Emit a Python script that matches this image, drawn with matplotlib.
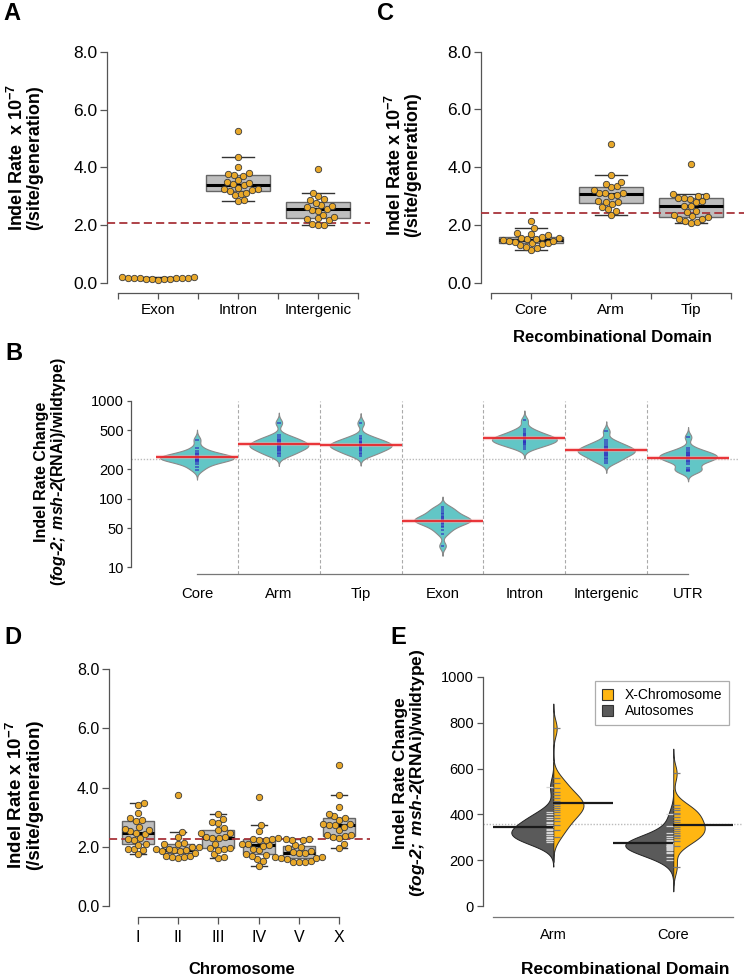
import numpy as np
import matplotlib
matplotlib.use('Agg')
import matplotlib.pyplot as plt
from matplotlib.patches import Patch
from matplotlib.ticker import NullLocator

plt.rcParams['font.family'] = ['Liberation Sans', 'DejaVu Sans']
plt.rcParams['mathtext.fontset'] = 'custom'
plt.rcParams['mathtext.rm'] = 'Liberation Sans'
plt.rcParams['mathtext.it'] = 'Liberation Sans:italic'
plt.rcParams['mathtext.bf'] = 'Liberation Sans:bold'
HAS_BFIT = 'mathtext.bfit' in plt.rcParams
if HAS_BFIT:
    plt.rcParams['mathtext.bfit'] = 'Liberation Sans:italic:bold'

# ---------------- data ----------------
# A: indel rate by genomic feature (x 10^-7 /site/generation)
a_cats = ['Exon', 'Intron', 'Intergenic']
a_exon = [0.20, 0.18, 0.16, 0.15, 0.15, 0.14, 0.13, 0.12, 0.11, 0.13, 0.15, 0.17, 0.21]
a_intron = [2.85, 2.88, 3.05, 3.08, 3.12, 3.18, 3.22, 3.25, 3.27, 3.30, 3.38,
            3.42, 3.45, 3.48, 3.58, 3.72, 3.75, 3.78, 3.80, 4.02, 4.38, 5.27]
a_intergenic = [1.99, 2.02, 2.05, 2.16, 2.20, 2.24, 2.28, 2.36, 2.50, 2.53,
                2.56, 2.64, 2.66, 2.70, 2.78, 2.86, 2.92, 3.00, 3.10, 3.95]

# C: indel rate by recombinational domain
c_cats = ['Core', 'Arm', 'Tip']
c_core = [1.12, 1.20, 1.25, 1.30, 1.33, 1.36, 1.38, 1.41, 1.44, 1.46, 1.48,
          1.50, 1.52, 1.54, 1.56, 1.60, 1.64, 1.68, 1.72, 1.88, 2.15]
c_arm = [2.35, 2.48, 2.55, 2.62, 2.72, 2.78, 2.80, 2.82, 3.00, 3.05,
         3.10, 3.10, 3.12, 3.20, 3.30, 3.34, 3.42, 3.50, 3.72, 4.81]
c_tip = [2.08, 2.10, 2.12, 2.20, 2.22, 2.28, 2.32, 2.35, 2.45, 2.48, 2.65,
         2.66, 2.80, 2.82, 2.90, 2.92, 2.93, 3.00, 3.02, 3.08, 4.12]

# B: fold change (fog-2; msh-2(RNAi) / wildtype)
b_cats = ['Core', 'Arm', 'Tip', 'Exon', 'Intron', 'Intergenic', 'UTR']
b_core = [400, 330, 305, 292, 284, 278, 273, 269, 266, 263, 260, 257, 254, 250, 246, 241, 235, 226, 212, 198]
b_arm = [597, 445, 425, 410, 398, 388, 378, 370, 362, 355, 349, 343, 337, 330, 322, 314, 304, 295, 283, 273]
b_tip = [590, 440, 420, 405, 392, 382, 374, 366, 360, 354, 348, 342, 336, 330, 322, 314, 305, 295, 285, 275]
b_exon = [83, 79, 75, 72, 69, 67, 65, 63, 62, 61, 60, 59, 58, 57, 55, 53, 51, 48, 44, 33]
b_intron = [628, 520, 490, 470, 455, 442, 432, 424, 416, 409, 402, 396, 390, 383, 376, 368, 360, 350, 338, 325]
b_intergenic = [487, 395, 375, 360, 348, 338, 330, 323, 317, 311, 305, 299, 293, 287, 280, 272, 263, 253, 242, 232]
b_utr = [425, 330, 312, 300, 292, 286, 280, 275, 270, 265, 260, 255, 250, 244, 236, 226, 205, 198, 194, 190]
b_ytick_pos = [20, 50, 100, 200, 500, 1000]
b_ytick_lab = ['10', '50', '100', '200', '500', '1000']

# D: indel rate by chromosome
d_cats = ['I', 'II', 'III', 'IV', 'V', 'X']
d_i = [1.75, 1.89, 1.91, 1.92, 2.06, 2.10, 2.23, 2.26, 2.29, 2.42, 2.48,
       2.54, 2.57, 2.59, 2.68, 2.86, 2.90, 2.96, 3.13, 3.40, 3.47]
d_ii = [1.62, 1.64, 1.66, 1.68, 1.70, 1.80, 1.84, 1.86, 1.88, 1.89,
        1.91, 1.93, 1.98, 2.00, 2.08, 2.10, 2.14, 2.34, 2.51, 3.75]
d_iii = [1.62, 1.66, 1.76, 1.90, 1.93, 1.95, 1.97, 2.10, 2.28, 2.30,
         2.32, 2.34, 2.45, 2.47, 2.55, 2.62, 2.80, 2.84, 2.95, 3.12]
d_iv = [1.35, 1.52, 1.58, 1.68, 1.72, 1.76, 1.88, 1.92, 2.02, 2.05,
        2.08, 2.10, 2.22, 2.24, 2.25, 2.26, 2.28, 2.52, 2.73, 3.68]
d_v = [1.48, 1.49, 1.50, 1.52, 1.58, 1.62, 1.63, 1.64, 1.66, 1.78,
       1.80, 1.82, 1.84, 1.95, 2.00, 2.05, 2.22, 2.24, 2.26, 2.27]
d_x = [1.95, 2.10, 2.30, 2.33, 2.36, 2.38, 2.40, 2.55, 2.68, 2.72,
       2.74, 2.76, 2.78, 2.90, 2.96, 3.05, 3.10, 3.35, 3.75, 4.76]

# E: fold change, X chromosome vs autosomes per domain
e_cats = ['Arm', 'Core']
e_arm_auto = [521, 412, 400, 390, 378, 368, 361, 352, 346, 338, 330,
              322, 317, 312, 308, 303, 296, 290, 290, 280, 290]
e_arm_x = [776, 560, 536, 514, 498, 485, 472, 460, 451, 445,
           438, 430, 421, 410, 398, 385, 370, 352, 330, 300]
e_core_auto = [400, 350, 320, 305, 295, 288, 282, 277, 273, 270, 267,
               264, 261, 258, 255, 250, 245, 238, 230, 215, 200]
e_core_x = [579, 440, 430, 420, 405, 400, 388, 375, 365, 355,
            345, 336, 328, 320, 312, 304, 295, 283, 262, 172]
e_legend = ['X-Chromosome', 'Autosomes']

# ---------------- helpers ----------------
W, H = 744, 976
fig = plt.figure(figsize=(W / 100, H / 100), dpi=100)

GOLD = '#E8A82A'
TEAL = '#62C6C6'
ORANGE = '#FFB612'
DGRAY = '#5A5A5A'


def add_ax(l, t, r, b):
    ax = fig.add_axes([l / W, 1 - b / H, (r - l) / W, (b - t) / H])
    for s in ['top', 'right']:
        ax.spines[s].set_visible(False)
    for s in ['left', 'bottom']:
        ax.spines[s].set_color('#555555')
        ax.spines[s].set_linewidth(0.9)
    ax.patch.set_alpha(0)
    return ax


def ftext(x, y, s, **kw):
    fig.text(x / W, 1 - y / H, s, **kw)


def two_line_ylabel(x1, x2, y, l1, l2, size):
    kw = dict(rotation=90, ha='center', va='center', fontsize=size, fontweight='bold',
              fontstyle='normal')
    ftext(x1, y, l1, **kw)
    ftext(x2, y, l2, **kw)


def kde(vals, t, bw):
    v = np.asarray(vals, float)[:, None]
    return np.exp(-0.5 * ((t[None, :] - v) / bw) ** 2).sum(0) / (len(vals) * bw * np.sqrt(2 * np.pi))


def swarm(vals, sx, sy, xs_px, ys_px):
    # beeswarm with an elliptical footprint (xs_px wide, ys_px tall)
    vals = np.asarray(vals, float)
    out = np.zeros(len(vals))
    placed = []
    for i in np.argsort(vals, kind='stable'):
        y = vals[i] * sy
        cands = [0.0]
        for px_, py_ in placed:
            dy = abs(py_ - y)
            if dy < ys_px:
                dx = xs_px * np.sqrt(1 - (dy / ys_px) ** 2)
                cands += [px_ + dx, px_ - dx]
        cands.sort(key=abs)
        for c in cands:
            if all(((c - px_) / xs_px) ** 2 + ((y - py_) / ys_px) ** 2 >= 1 - 1e-6
                   for px_, py_ in placed):
                break
        placed.append((c, y))
        out[i] = c / sx
    return out


def box_swarm(ax, groups, cats, xlim, ylim, px, half_ticks, ysize, xsize):
    l, t, r, b = px
    ax.set_xlim(xlim)
    ax.set_ylim(ylim)
    sx = (r - l) / (xlim[1] - xlim[0])
    sy = (b - t) / (ylim[1] - ylim[0])
    pos = np.arange(1, len(groups) + 1)
    bp = ax.boxplot(groups, positions=pos, widths=0.8, capwidths=0.4, patch_artist=True,
                    showfliers=False, manage_ticks=False, zorder=2,
                    boxprops=dict(facecolor='#BEBEBE', edgecolor='#666666', linewidth=1.0),
                    medianprops=dict(color='black', linewidth=2.2),
                    capprops=dict(color='#333333', linewidth=1.0))
    for w in bp['whiskers']:
        w.set_visible(False)
    ax.axhline(np.mean([np.mean(g) for g in groups]), color='#A8343A', lw=1.3,
               dashes=(4.5, 2.3), zorder=3)
    for p, g in zip(pos, groups):
        off = swarm(g, sx, sy, 6.0, 7.0)
        ax.plot(p + off, g, 'o', ms=4.6, mfc=GOLD, mec='#3A3A3A', mew=0.6,
                zorder=4, clip_on=False)
    yt = [0, 2, 4, 6, 8]
    ax.set_yticks(yt)
    ax.set_yticklabels([f'{v:.1f}' for v in yt])
    ax.spines['left'].set_bounds(0, 8)
    if half_ticks:
        ticks = np.arange(0.5, len(groups) + 0.51, 0.5)
        labs = [cats[int(k) - 1] if float(k).is_integer() else '' for k in ticks]
        ax.spines['bottom'].set_bounds(0.5, len(groups) + 0.5)
    else:
        ticks = pos
        labs = cats
        ax.spines['bottom'].set_bounds(1, len(groups))
    ax.set_xticks(ticks)
    ax.set_xticklabels(labs)
    ax.tick_params(axis='y', length=5, width=0.9, color='#555555', labelsize=ysize, pad=2)
    ax.tick_params(axis='x', length=4.5, width=0.9, color='#555555', labelsize=xsize, pad=3)


rate_l1 = 'Indel Rate x 10$^{\\mathbf{-7}}$'
rate_l2 = '(/site/generation)'
if HAS_BFIT:
    ylab_fold = ('Indel Rate Change\n($\\mathbfit{fog}$-$\\mathbfit{2;\\ msh}$-'
                 '$\\mathbfit{2}$(RNAi)/wildtype)')
else:
    ylab_fold = ('Indel Rate Change\n($\\mathit{fog}$-$\\mathit{2;\\ msh}$-'
                 '$\\mathit{2}$(RNAi)/wildtype)')

# ---------------- panel A ----------------
pxA = (107, 52.3, 370, 293)
axA = add_ax(*pxA)
box_swarm(axA, [a_exon, a_intron, a_intergenic], a_cats, (0.3625, 3.65), (-0.358, 8.0),
          pxA, True, 12.5, 11)
two_line_ylabel(17, 35, 158, rate_l1.replace('Rate x', 'Rate  x'), rate_l2, 13)
ftext(12, 14, 'A', fontsize=17, fontweight='bold', ha='center', va='center')

# ---------------- panel C ----------------
pxC = (481, 51.7, 744, 292.7)
axC = add_ax(*pxC)
box_swarm(axC, [c_core, c_arm, c_tip], c_cats, (0.375, 3.665), (-0.346, 8.0),
          pxC, True, 12.5, 11)
two_line_ylabel(395, 413, 165, rate_l1, rate_l2, 13)
ftext(612, 337, 'Recombinational Domain', fontsize=12, fontweight='bold', ha='center', va='center')
ftext(386, 13, 'C', fontsize=17, fontweight='bold', ha='center', va='center')

# ---------------- panel D ----------------
pxD = (109, 669, 370, 917)
axD = add_ax(*pxD)
box_swarm(axD, [d_i, d_ii, d_iii, d_iv, d_v, d_x], d_cats, (0.279, 6.77), (-0.371, 8.0),
          pxD, False, 11.5, 11.5)
axD.tick_params(axis='x', length=5, pad=4)
two_line_ylabel(16, 35, 795, rate_l1, rate_l2, 13.5)
ftext(242, 970, 'Chromosome', fontsize=12, fontweight='bold', ha='center', va='center')
ftext(13, 638, 'D', fontsize=17, fontweight='bold', ha='center', va='center')

# ---------------- panel B ----------------
axB = add_ax(130.7, 400.7, 738, 574.3)
axB.set_yscale('log')
axB.set_ylim(16.9, 1000)
axB.set_xlim(0.19, 7.61)
b_groups = [b_core, b_arm, b_tip, b_exon, b_intron, b_intergenic, b_utr]
bw_b = 0.034
curves = []
for g in b_groups:
    lg = np.log10(g)
    t = np.linspace(lg.min() - 3 * bw_b, lg.max() + 3 * bw_b, 400)
    curves.append((t, kde(lg, t, bw_b)))
scale_b = 0.45 / max(d.max() for _, d in curves)
for i, (g, (t, d)) in enumerate(zip(b_groups, curves), start=1):
    w = d * scale_b
    axB.fill_betweenx(10 ** t, i - w, i + w, facecolor=TEAL, edgecolor='#8A8A8A',
                      linewidth=0.8, zorder=2)
    axB.hlines(g, i - 0.022, i + 0.022, color='#2B2BBF', lw=1.2, alpha=0.7, zorder=3)
    gm = 10 ** np.mean(np.log10(g))
    axB.hlines(gm, i - 0.5, i + 0.5, color='#F4A0A0', lw=3.0, alpha=0.5, zorder=3)
    axB.hlines(gm, i - 0.5, i + 0.5, color='#E8262A', lw=1.3, zorder=4)
all_b = np.concatenate([np.log10(g) for g in b_groups])
axB.axhline(10 ** all_b.mean(), color='#BBBBBB', lw=1.0, ls=(0, (1, 1.2)), zorder=1)
for k in np.arange(1.5, len(b_groups), 1.0):
    axB.axvline(k, color='#AAAAAA', lw=0.8, ls=(0, (3, 2)), zorder=1)
axB.set_yticks(b_ytick_pos)
axB.set_yticklabels(b_ytick_lab)
axB.yaxis.set_minor_locator(NullLocator())
axB.spines['left'].set_bounds(b_ytick_pos[0], b_ytick_pos[-1])
axB.spines['bottom'].set_bounds(1, len(b_groups))
axB.spines['bottom'].set_color('#777777')
axB.set_xticks(np.arange(1, len(b_groups) + 1))
axB.set_xticklabels(b_cats)
axB.tick_params(axis='y', length=3, width=0.9, color='#555555', labelsize=10.5, pad=2)
axB.tick_params(axis='x', length=0, labelsize=10.7, pad=9)
ftext(51, 472, ylab_fold, rotation=90, ha='center', va='center',
      fontsize=11.5, fontweight='bold', linespacing=1.0, multialignment='center')
ftext(14, 353, 'B', fontsize=17, fontweight='bold', ha='center', va='center')

# ---------------- panel E ----------------
axE = add_ax(483, 677, 742, 917)
axE.set_xlim(0.414, 2.573)
axE.set_ylim(-48, 1000)
bw_e = 36.0
e_pairs = [(e_arm_auto, e_arm_x), (e_core_auto, e_core_x)]
e_curves = []
for pair in e_pairs:
    row = []
    for g in pair:
        t = np.linspace(min(g) - 3 * bw_e, max(g) + 3 * bw_e, 400)
        row.append((t, kde(g, t, bw_e)))
    e_curves.append(row)
scale_e = 0.4 / max(d.max() for row in e_curves for _, d in row)
for j, (pair, row) in enumerate(zip(e_pairs, e_curves), start=1):
    (ta, da), (tx, dx) = row
    auto, xg = pair
    axE.fill_betweenx(ta, j - da * scale_e, j, facecolor=DGRAY, edgecolor='#222222',
                      linewidth=0.7, zorder=2)
    axE.fill_betweenx(tx, j, j + dx * scale_e, facecolor=ORANGE, edgecolor='#333333',
                      linewidth=0.7, zorder=2)
    axE.hlines(auto, j - 0.06, j, color='#D5D5D5', lw=0.9, zorder=3)
    axE.hlines(xg, j, j + 0.06, color='#7A7A7A', lw=0.9, zorder=3)
    axE.hlines(np.mean(auto), j - 0.5, j, color='#1A1A1A', lw=1.6, zorder=4)
    axE.hlines(np.mean(xg), j, j + 0.5, color='#1A1A1A', lw=1.6, zorder=4)
axE.axhline(np.mean([np.mean(g) for p in e_pairs for g in p]), color='#BBBBBB', lw=1.0,
            ls=(0, (1, 1.2)), zorder=1)
axE.set_yticks(np.arange(0, 1001, 200))
axE.spines['left'].set_bounds(0, 1000)
axE.spines['bottom'].set_bounds(0.5, 2.5)
axE.spines['bottom'].set_color('#777777')
axE.set_xticks([1, 2])
axE.set_xticklabels(e_cats)
axE.tick_params(axis='y', length=4.5, width=0.9, color='#555555', labelsize=10.5, pad=2)
axE.tick_params(axis='x', length=0, labelsize=10.5, pad=8)
handles = [Patch(facecolor=ORANGE, edgecolor='#333333', lw=0.8),
           Patch(facecolor=DGRAY, edgecolor='#333333', lw=0.8)]
leg = axE.legend(handles, e_legend, loc='upper left', bbox_to_anchor=(0.431, 0.983),
                 borderaxespad=0, fontsize=10, frameon=True, fancybox=False,
                 handlelength=0.85, handleheight=0.85, handletextpad=0.8,
                 labelspacing=0.15, borderpad=0.5)
leg.get_frame().set_edgecolor('#999999')
leg.get_frame().set_linewidth(0.9)
ftext(410, 773, ylab_fold, rotation=90, ha='center', va='center',
      fontsize=12.5, fontweight='bold', linespacing=1.0, multialignment='center')
ftext(625, 970, 'Recombinational Domain', fontsize=12.5, fontweight='bold', ha='center', va='center')
ftext(398, 637, 'E', fontsize=17, fontweight='bold', ha='center', va='center')

fig.savefig('out.png', dpi=100)
